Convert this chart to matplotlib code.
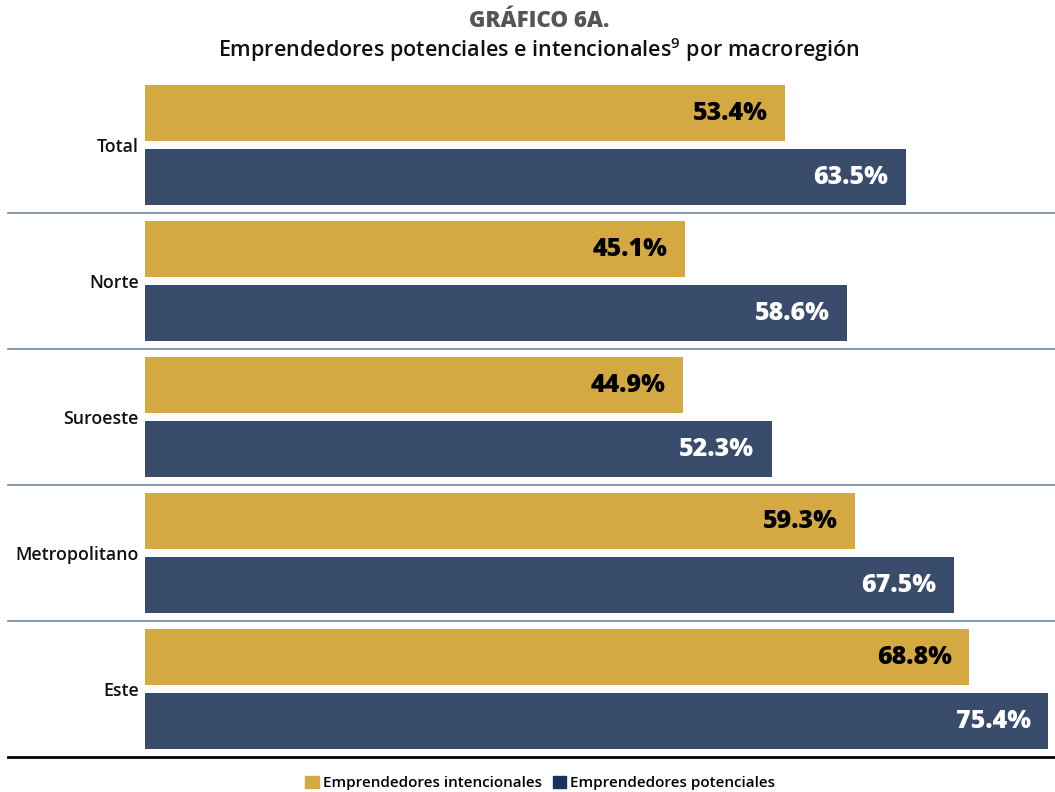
import matplotlib
matplotlib.use('Agg')
import matplotlib.pyplot as plt
from matplotlib.patches import Patch
import numpy as np

plt.rcParams['font.family'] = ['Open Sans', 'DejaVu Sans']
plt.rcParams['mathtext.default'] = 'regular'

regiones = ['Total', 'Norte', 'Suroeste', 'Metropolitano', 'Este']
intencionales = [53.4, 45.1, 44.9, 59.3, 68.8]
potenciales = [63.5, 58.6, 52.3, 67.5, 75.4]

color_oro = '#D4A942'
color_azul = '#3A4C6C'
color_sep = '#7A92AC'

fig = plt.figure(figsize=(10.55, 7.92), dpi=100)
ax = fig.add_axes([145 / 1055, 35 / 792, 910 / 1055, 680 / 792])

y = np.arange(len(regiones))
alto = 56 / 136
desp = 32 / 136

ax.barh(y - desp, intencionales, height=alto, color=color_oro)
ax.barh(y + desp, potenciales, height=alto, color=color_azul)

for yi, v in zip(y, intencionales):
    ax.text(v - 1.45, yi - desp, f'{v:.1f}%', ha='right', va='center',
            fontsize=18, fontweight='heavy', color='black')
for yi, v in zip(y, potenciales):
    ax.text(v - 1.45, yi + desp, f'{v:.1f}%', ha='right', va='center',
            fontsize=18, fontweight='heavy', color='white')

# separadores
x0 = -(145 - 8) / 910
for yi in y[:-1]:
    ax.axhline(yi + 0.5, xmin=x0, xmax=1, color=color_sep, lw=1.3, clip_on=False)
ax.axhline(len(regiones) - 0.5, xmin=x0, xmax=1, color='black', lw=2, clip_on=False)

ax.set_xlim(0, 910 / 11.98)
ax.set_ylim(len(regiones) - 0.5, -0.5)
ax.set_yticks(y)
ax.set_yticklabels(regiones, fontsize=12.8, fontweight='semibold', color='#111111')
ax.tick_params(axis='y', length=0, pad=4.5)
ax.set_xticks([])
for s in ax.spines.values():
    s.set_visible(False)

fig.text(0.511, 1 - 21 / 792, 'GRÁFICO 6A.', ha='center', va='center',
         fontsize=16, fontweight='heavy', color='#555555')
fig.text(0.511, 1 - 50 / 792, 'Emprendedores potenciales e intencionales$^{9}$ por macroregión',
         ha='center', va='center', fontsize=15.5, fontweight='semibold', color='#111111')

handles = [Patch(color=color_oro, label='Emprendedores intencionales'),
           Patch(color='#15345C', label='Emprendedores potenciales')]
fig.legend(handles=handles, loc='center', bbox_to_anchor=(0.512, 1 - 783 / 792),
           ncol=2, frameon=False, handlelength=0.9, handleheight=0.9,
           handletextpad=0.25, columnspacing=0.7,
           prop={'weight': 'semibold', 'size': 11})

fig.savefig('out.png', dpi=100)
